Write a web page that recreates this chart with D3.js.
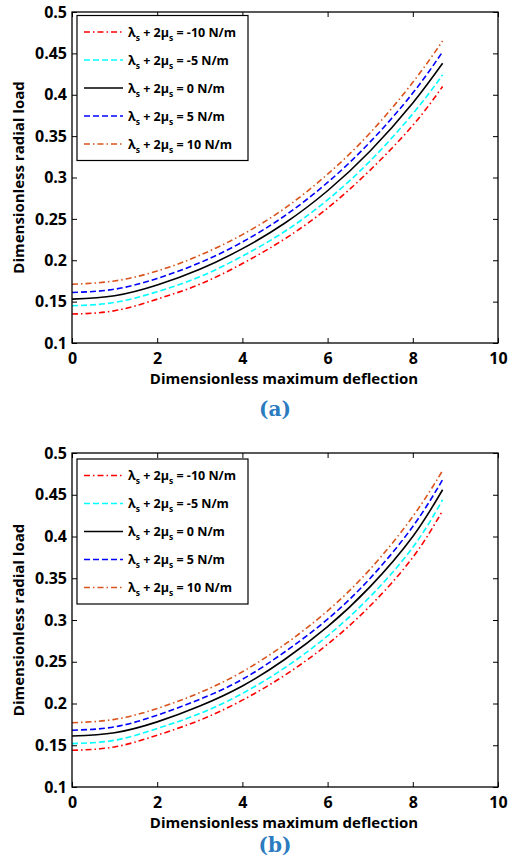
<!DOCTYPE html>
<html><head><meta charset="utf-8">
<script src="https://cdn.jsdelivr.net/npm/d3@7"></script>
<style>body{margin:0;background:#fff} svg{display:block}</style>
</head><body>
<script>
// ---------- data ----------
const deflection = [0, 1, 2, 3, 4, 5, 6, 7, 8, 8.7];
const seriesValues = ["-10", "-5", "0", "5", "10"];
// panel (a)
const loadA_m10 = [0.135, 0.139, 0.153, 0.171, 0.196, 0.226, 0.263, 0.309, 0.363, 0.410];
const loadA_m5  = [0.145, 0.149, 0.162, 0.180, 0.205, 0.235, 0.273, 0.320, 0.377, 0.424];
const loadA_0   = [0.153, 0.157, 0.170, 0.189, 0.214, 0.245, 0.284, 0.332, 0.390, 0.438];
const loadA_p5  = [0.161, 0.165, 0.178, 0.197, 0.222, 0.254, 0.294, 0.343, 0.402, 0.452];
const loadA_p10 = [0.171, 0.175, 0.187, 0.206, 0.231, 0.263, 0.304, 0.354, 0.415, 0.465];
// panel (b)
const loadB_m10 = [0.144, 0.148, 0.162, 0.180, 0.204, 0.234, 0.271, 0.317, 0.375, 0.431];
const loadB_m5  = [0.152, 0.156, 0.170, 0.188, 0.212, 0.243, 0.281, 0.328, 0.387, 0.444];
const loadB_0   = [0.161, 0.165, 0.178, 0.197, 0.221, 0.253, 0.292, 0.340, 0.400, 0.456];
const loadB_p5  = [0.168, 0.172, 0.186, 0.205, 0.229, 0.262, 0.301, 0.350, 0.412, 0.468];
const loadB_p10 = [0.177, 0.181, 0.194, 0.213, 0.238, 0.271, 0.311, 0.361, 0.424, 0.479];
const xTicks = [0, 2, 4, 6, 8, 10];
const yTicks = [0.1, 0.15, 0.2, 0.25, 0.3, 0.35, 0.4, 0.45, 0.5];
const xTitle = "Dimensionless maximum deflection";
const yTitle = "Dimensionless radial load";
const panelLabels = ["(a)", "(b)"];

// ---------- styles ----------
const styles = [
  {color: "#ff0000", dash: "6,3,1.5,3"},
  {color: "#00ffff", dash: "6,3"},
  {color: "#000000", dash: null},
  {color: "#0000ff", dash: "6,3"},
  {color: "#d9531c", dash: "6,3,1.5,3"}
];
const FONT = "'Open Sans', Lato, sans-serif";

const W = 508, H = 867;
const svg = d3.select("body").append("svg").attr("width", W).attr("height", H);

function panel(top, bottom, series, label, legendTop, labelY) {
  const x = d3.scaleLinear().domain([0, 10]).range([72, 498]);
  const y = d3.scaleLinear().domain([0.1, 0.5]).range([bottom, top]);
  const g = svg.append("g");

  const fmtY = d => d3.format(".2~f")(d);
  const styleAxis = a => {
    a.select(".domain").remove();
    a.selectAll(".tick line").attr("stroke", "#000").attr("stroke-width", 1);
    a.selectAll("text").attr("font-family", FONT).attr("font-weight", "bold")
      .attr("font-size", 16).attr("fill", "#000");
  };
  g.append("g").attr("transform", `translate(0,${bottom})`)
    .call(d3.axisBottom(x).tickValues(xTicks).tickSizeInner(-5).tickSizeOuter(0).tickPadding(10).tickFormat(d3.format("d")))
    .call(styleAxis);
  g.append("g").attr("transform", `translate(0,${top})`)
    .call(d3.axisTop(x).tickValues(xTicks).tickSizeInner(-5).tickSizeOuter(0).tickFormat(""))
    .call(styleAxis);
  g.append("g").attr("transform", `translate(72,0)`)
    .call(d3.axisLeft(y).tickValues(yTicks).tickSizeInner(-5).tickSizeOuter(0).tickPadding(5).tickFormat(fmtY))
    .call(styleAxis);
  g.append("g").attr("transform", `translate(498,0)`)
    .call(d3.axisRight(y).tickValues(yTicks).tickSizeInner(-5).tickSizeOuter(0).tickFormat(""))
    .call(styleAxis);

  // curves
  const line = d3.line().x((d, i) => x(deflection[i])).y(d => y(d)).curve(d3.curveNatural);
  series.forEach((s, i) => {
    g.append("path").attr("d", line(s)).attr("fill", "none")
      .attr("stroke", styles[i].color).attr("stroke-width", 1.6)
      .attr("stroke-dasharray", styles[i].dash);
  });

  // frame
  g.append("rect").attr("x", 72).attr("y", top).attr("width", 426).attr("height", bottom - top)
    .attr("fill", "none").attr("stroke", "#000").attr("stroke-width", 1.3);

  // legend
  const lg = g.append("g");
  lg.append("rect").attr("x", 77).attr("y", legendTop).attr("width", 171).attr("height", 145)
    .attr("fill", "#fff").attr("stroke", "#000").attr("stroke-width", 1.2);
  seriesValues.forEach((v, i) => {
    const ry = legendTop + 16.5 + i * 28;
    lg.append("line").attr("x1", 84).attr("x2", 123).attr("y1", ry).attr("y2", ry)
      .attr("stroke", styles[i].color).attr("stroke-width", 1.6).attr("stroke-dasharray", styles[i].dash);
    const t = lg.append("text").attr("x", 128).attr("y", ry + 4.5)
      .attr("font-family", FONT).attr("font-weight", "bold").attr("font-size", 12.5).attr("fill", "#000");
    t.append("tspan").text("λ");
    t.append("tspan").attr("font-size", 8.5).attr("dy", 4).text("s");
    t.append("tspan").attr("dy", -4).text(" + 2μ");
    t.append("tspan").attr("font-size", 8.5).attr("dy", 4).text("s");
    t.append("tspan").attr("dy", -4).text(` = ${v} N/m`);
  });

  // axis titles
  g.append("text").attr("x", 284).attr("y", bottom + 41).attr("text-anchor", "middle")
    .attr("font-family", FONT).attr("font-weight", "bold").attr("font-size", 15).attr("fill", "#000")
    .text(xTitle);
  g.append("text").attr("transform", `translate(24,${(top + bottom) / 2}) rotate(-90)`).attr("text-anchor", "middle")
    .attr("font-family", FONT).attr("font-weight", "bold").attr("font-size", 15).attr("fill", "#000")
    .text(yTitle);
  g.append("text").attr("x", 275).attr("y", labelY).attr("text-anchor", "middle")
    .attr("font-family", "'DejaVu Serif', 'Liberation Serif', serif").attr("font-weight", "bold")
    .attr("font-size", 20).attr("fill", "#2b7bbf").text(label);
}

panel(12, 343, [loadA_m10, loadA_m5, loadA_0, loadA_p5, loadA_p10], panelLabels[0], 15.5, 416);
panel(453, 787, [loadB_m10, loadB_m5, loadB_0, loadB_p5, loadB_p10], panelLabels[1], 459, 852);
</script>
</body></html>
